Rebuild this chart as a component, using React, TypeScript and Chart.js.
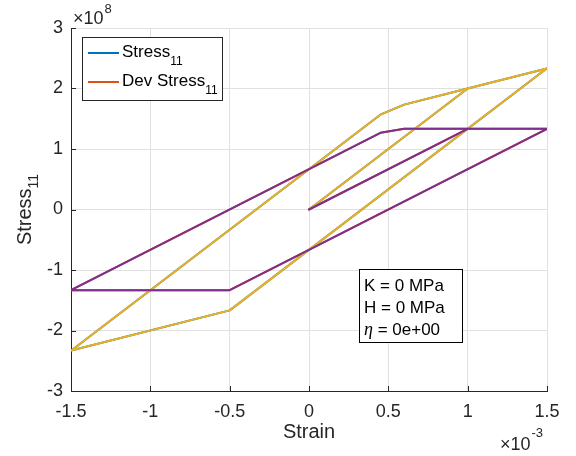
import { useEffect, useRef } from 'react';
import { Chart, registerables } from 'chart.js';

Chart.register(...registerables);

// Loading path (strain) and responses
const strainPath = [0, 1.0e-3, 1.5e-3, -0.5e-3, -1.5e-3, 0.45e-3, 0.6e-3, 1.0e-3, 1.5e-3];
const stressPath = [0, 2.0e8, 2.333e8, -1.667e8, -2.333e8, 1.567e8, 1.733e8, 2.0e8, 2.333e8];
const devStrainPath = [0, 1.0e-3, 1.5e-3, -0.5e-3, -1.5e-3, 0.45e-3, 0.6e-3, 1.5e-3];
const devStressPath = [0, 1.333e8, 1.333e8, -1.333e8, -1.333e8, 1.267e8, 1.333e8, 1.333e8];

const xTickValues = [-1.5e-3, -1.0e-3, -0.5e-3, 0, 0.5e-3, 1.0e-3, 1.5e-3];
const xTickLabels = ['-1.5', '-1', '-0.5', '0', '0.5', '1', '1.5'];
const yTickValues = [-3e8, -2e8, -1e8, 0, 1e8, 2e8, 3e8];
const yTickLabels = ['-3', '-2', '-1', '0', '1', '2', '3'];

const legendLabels = ['Stress', 'Dev Stress'];
const infoLines = ['K = 0 MPa', 'H = 0 MPa', '= 0e+00'];

const FONT = '"Liberation Sans", Arial, Helvetica, sans-serif';
const AX = '#262626';

function pts(xs: number[], ys: number[]) {
  return xs.map((x, i) => ({ x, y: ys[i] }));
}

const matlabPlugin = {
  id: 'matlabDecor',
  afterDraw(chart: any) {
    const ctx: CanvasRenderingContext2D = chart.ctx;
    const { left, right, top, bottom } = chart.chartArea;
    const xs = chart.scales.x;
    const ys = chart.scales.y;
    ctx.save();
    // inward ticks
    ctx.strokeStyle = AX;
    ctx.lineWidth = 1;
    ctx.beginPath();
    xTickValues.forEach((v) => {
      const px = Math.round(xs.getPixelForValue(v)) + 0.5;
      ctx.moveTo(px, bottom);
      ctx.lineTo(px, bottom - 5);
    });
    yTickValues.forEach((v) => {
      const py = Math.round(ys.getPixelForValue(v)) + 0.5;
      ctx.moveTo(left, py);
      ctx.lineTo(left + 5, py);
    });
    ctx.stroke();

    // tick labels
    ctx.fillStyle = AX;
    ctx.font = `18px ${FONT}`;
    ctx.textAlign = 'center';
    ctx.textBaseline = 'middle';
    xTickValues.forEach((v, i) => {
      ctx.fillText(xTickLabels[i], xs.getPixelForValue(v), bottom + 21);
    });
    ctx.textAlign = 'right';
    yTickValues.forEach((v, i) => {
      ctx.fillText(yTickLabels[i], left - 8, ys.getPixelForValue(v));
    });

    // exponents
    ctx.textAlign = 'left';
    ctx.textBaseline = 'alphabetic';
    ctx.font = `18px ${FONT}`;
    ctx.fillText('\u00d710', left + 2, top - 4);
    let w = ctx.measureText('\u00d710').width;
    ctx.font = `13px ${FONT}`;
    ctx.fillText('8', left + 2 + w + 1, top - 15);

    ctx.font = `18px ${FONT}`;
    const ex = right - 47;
    ctx.fillText('\u00d710', ex, 450);
    w = ctx.measureText('\u00d710').width;
    ctx.font = `13px ${FONT}`;
    ctx.fillText('-3', ex + w + 1, 437);

    // axis labels
    ctx.font = `20px ${FONT}`;
    ctx.textAlign = 'center';
    ctx.textBaseline = 'middle';
    ctx.fillText('Strain', (left + right) / 2, 432);

    ctx.save();
    ctx.translate(31, (top + bottom) / 2);
    ctx.rotate(-Math.PI / 2);
    ctx.textAlign = 'left';
    ctx.textBaseline = 'alphabetic';
    ctx.font = `20px ${FONT}`;
    const sw = ctx.measureText('Stress').width;
    ctx.font = `14px ${FONT}`;
    const subw = ctx.measureText('11').width;
    const total = sw + subw;
    ctx.font = `20px ${FONT}`;
    ctx.fillText('Stress', -total / 2, 0);
    ctx.font = `14px ${FONT}`;
    ctx.fillText('11', -total / 2 + sw, 7);
    ctx.restore();

    // legend
    const lx = 82, ly = 37, lw = 140, lh = 63;
    ctx.fillStyle = '#ffffff';
    ctx.fillRect(lx, ly, lw, lh);
    ctx.strokeStyle = AX;
    ctx.lineWidth = 1;
    ctx.strokeRect(lx + 0.5, ly + 0.5, lw, lh);
    const legendColors = ['#0072BD', '#D95319'];
    const rowY = [53, 82];
    legendLabels.forEach((lab, i) => {
      ctx.strokeStyle = legendColors[i];
      ctx.lineWidth = 2;
      ctx.beginPath();
      ctx.moveTo(88, rowY[i]);
      ctx.lineTo(119, rowY[i]);
      ctx.stroke();
      ctx.fillStyle = '#000000';
      ctx.textAlign = 'left';
      ctx.textBaseline = 'alphabetic';
      ctx.font = `17px ${FONT}`;
      ctx.fillText(lab, 122, rowY[i] + 4);
      const tw = ctx.measureText(lab).width;
      ctx.font = `12px ${FONT}`;
      ctx.fillText('11', 122 + tw, rowY[i] + 12);
    });

    // info box
    const bx = 359, by = 269, bw = 103, bh = 73;
    ctx.fillStyle = '#ffffff';
    ctx.fillRect(bx, by, bw, bh);
    ctx.strokeStyle = '#000000';
    ctx.lineWidth = 1;
    ctx.strokeRect(bx + 0.5, by + 0.5, bw, bh);
    ctx.fillStyle = '#000000';
    ctx.textAlign = 'left';
    ctx.textBaseline = 'middle';
    const iy = [286, 308, 330];
    ctx.font = `17px ${FONT}`;
    ctx.fillText(infoLines[0], 364, iy[0]);
    ctx.fillText(infoLines[1], 364, iy[1]);
    ctx.font = `italic 18px "Liberation Serif", "DejaVu Serif", serif`;
    ctx.fillText('\u03b7', 364, iy[2]);
    const ew = ctx.measureText('\u03b7').width;
    ctx.font = `17px ${FONT}`;
    ctx.fillText(' ' + infoLines[2], 364 + ew, iy[2]);

    ctx.restore();
  },
};

export default function App() {
  const ref = useRef<HTMLCanvasElement | null>(null);
  useEffect(() => {
    document.body.style.margin = '0';
    const canvas = ref.current;
    if (!canvas) return;
    const chart = new Chart(canvas, {
      type: 'scatter',
      data: {
        datasets: [
          {
            label: 'Stress_11',
            data: pts(strainPath, stressPath),
            borderColor: '#0072BD',
            borderWidth: 2,
            showLine: true,
            pointRadius: 0,
            tension: 0,
            order: 3,
          },
          {
            label: 'Dev Stress_11',
            data: pts(devStrainPath, devStressPath),
            borderColor: '#D95319',
            borderWidth: 2,
            showLine: true,
            pointRadius: 0,
            tension: 0,
            order: 2,
          },
          {
            label: 'Stress',
            data: pts(strainPath, stressPath),
            borderColor: '#EDB120',
            borderWidth: 2,
            showLine: true,
            pointRadius: 0,
            tension: 0,
            order: 1,
          },
          {
            label: 'Dev Stress',
            data: pts(devStrainPath, devStressPath),
            borderColor: '#7E2F8E',
            borderWidth: 2,
            showLine: true,
            pointRadius: 0,
            tension: 0,
            order: 0,
          },
        ],
      },
      options: {
        animation: false,
        responsive: false,
        devicePixelRatio: 1,
        layout: { padding: { top: 28, right: 29, left: 0, bottom: 0 } },
        plugins: { legend: { display: false }, tooltip: { enabled: false } },
        elements: { line: { borderJoinStyle: 'round', borderCapStyle: 'round' } },
        scales: {
          x: {
            type: 'linear',
            min: -1.5e-3,
            max: 1.5e-3,
            afterBuildTicks: (s: any) => {
              s.ticks = xTickValues.map((v) => ({ value: v }));
            },
            afterFit: (s: any) => {
              s.height = 65;
            },
            ticks: { display: false },
            grid: { color: '#e0e0e0', drawTicks: false, lineWidth: 1 },
            border: { color: AX, width: 1 },
          },
          y: {
            type: 'linear',
            min: -3e8,
            max: 3e8,
            afterBuildTicks: (s: any) => {
              s.ticks = yTickValues.map((v) => ({ value: v }));
            },
            afterFit: (s: any) => {
              s.width = 71;
            },
            ticks: { display: false },
            grid: { color: '#e0e0e0', drawTicks: false, lineWidth: 1 },
            border: { color: AX, width: 1 },
          },
        },
      },
      plugins: [matlabPlugin],
    } as any);
    return () => chart.destroy();
  }, []);
  return (
    <div style={{ width: 576, height: 456, background: '#ffffff' }}>
      <canvas ref={ref} width={576} height={456} />
    </div>
  );
}
